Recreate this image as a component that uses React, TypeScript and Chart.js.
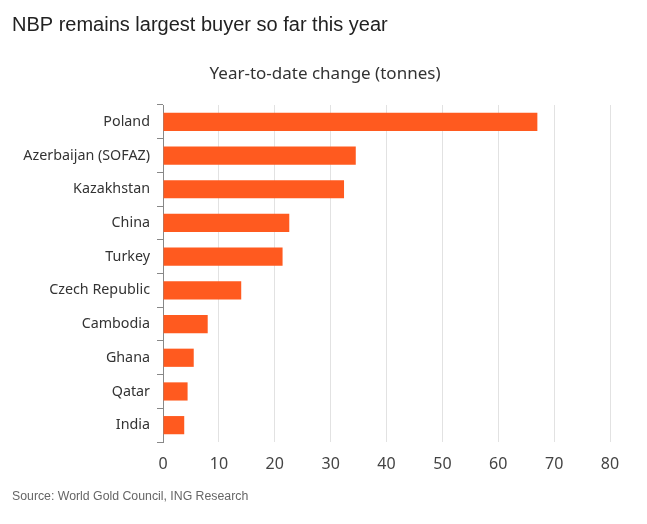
import { useEffect, useRef } from "react";
import { Chart, registerables } from "chart.js";

Chart.register(...registerables);

const countries = [
  "Poland",
  "Azerbaijan (SOFAZ)",
  "Kazakhstan",
  "China",
  "Turkey",
  "Czech Republic",
  "Cambodia",
  "Ghana",
  "Qatar",
  "India",
];
const tonnes = [67.0, 34.5, 32.4, 22.6, 21.4, 14.0, 8.0, 5.5, 4.4, 3.8];

const labelFont = "'Noto Sans', 'DejaVu Sans', sans-serif";

export default function App() {
  const canvasRef = useRef<HTMLCanvasElement | null>(null);

  useEffect(() => {
    if (!canvasRef.current) return;
    const ctx = canvasRef.current.getContext("2d");
    if (!ctx) return;

    const chart = new Chart(ctx, {
      type: "bar",
      data: {
        labels: countries,
        datasets: [
          {
            label: "Year-to-date change (tonnes)",
            data: tonnes,
            backgroundColor: "#FF5A1F",
            borderWidth: 0,
            categoryPercentage: 1,
            barPercentage: 0.54,
          },
        ],
      },
      options: {
        indexAxis: "y",
        animation: false,
        responsive: true,
        maintainAspectRatio: false,
        layout: { padding: { left: 12, right: 37, top: 0, bottom: 40 } },
        plugins: {
          legend: { display: false },
          tooltip: { enabled: false },
          title: {
            display: true,
            text: "NBP remains largest buyer so far this year",
            align: "start",
            color: "#222",
            font: { family: "'Liberation Sans', Arial, sans-serif", size: 20, weight: "normal" },
            // bottom padding leaves room for the centred subtitle drawn below
            padding: { top: 13, bottom: 68 },
          },
        },
        scales: {
          x: {
            min: 0,
            max: 80,
            ticks: {
              stepSize: 10,
              color: "#444",
              padding: 13,
              font: { family: labelFont, size: 16 },
            },
            grid: { color: "#e2e2e2", drawTicks: false },
            border: { display: false },
            afterFit: (scale: any) => {
              scale.height = 42;
            },
          },
          y: {
            ticks: {
              color: "#333",
              padding: 7,
              font: { family: labelFont, size: 14.3 },
            },
            grid: {
              offset: true,
              drawOnChartArea: false,
              tickLength: 6,
              color: "#888",
            },
            border: { color: "#888" },
            afterFit: (scale: any) => {
              scale.width = 151;
            },
          },
        },
      },
    });

    return () => {
      chart.destroy();
    };
  }, []);

  return (
    <div style={{ position: "absolute", left: 0, top: 0, width: 647, height: 524, background: "#fff" }}>
      <canvas ref={canvasRef} />
      <div
        style={{
          position: "absolute",
          left: 0,
          top: 62,
          width: 650,
          textAlign: "center",
          fontFamily: labelFont,
          fontSize: 17,
          lineHeight: "22px",
          color: "#333",
        }}
      >
        Year-to-date change (tonnes)
      </div>
      <div
        style={{
          position: "absolute",
          left: 12,
          top: 489,
          fontFamily: "'Liberation Sans', Arial, sans-serif",
          fontSize: 12.3,
          color: "#666",
        }}
      >
        Source: World Gold Council, ING Research
      </div>
    </div>
  );
}
